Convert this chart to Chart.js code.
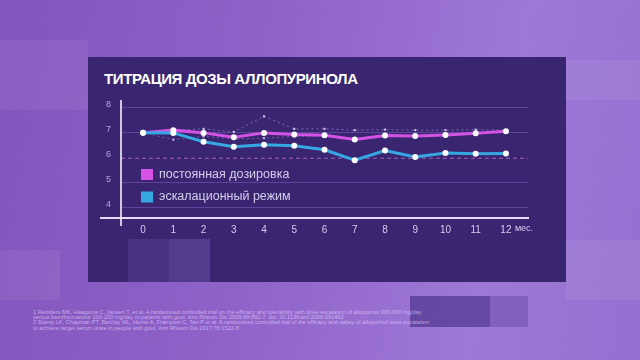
<!DOCTYPE html>
<html><head><meta charset="utf-8">
<script src="https://cdn.jsdelivr.net/npm/chart.js@4"></script>
<style>
html,body{margin:0;padding:0;}
body{width:640px;height:360px;overflow:hidden;position:relative;font-family:"Liberation Sans",Arial,sans-serif;
background:linear-gradient(100deg,#8155bd 0%,#8f62c8 40%,#9e78d6 75%,#9670d0 100%);}
.deco{position:absolute;background:rgba(255,255,255,0.06);}
#panel{position:absolute;left:88px;top:57px;width:478px;height:225px;background:#3a2570;}
#title{position:absolute;left:104px;top:70px;color:#fff;font-weight:bold;font-size:15px;letter-spacing:-0.4px;white-space:nowrap;}
#notes{position:absolute;left:33px;top:310px;color:rgba(225,210,255,0.7);font-size:5.5px;line-height:5.2px;white-space:nowrap;}
#notes span{display:inline-block;}
canvas{position:absolute;left:0;top:0;}
</style></head><body>
<div class="deco" style="left:0;top:40px;width:88px;height:70px"></div>
<div class="deco" style="left:566px;top:60px;width:74px;height:40px"></div>
<div class="deco" style="left:0;top:250px;width:60px;height:50px"></div>
<div class="deco" style="left:566px;top:240px;width:74px;height:60px"></div>
<div class="deco" style="left:410px;top:296px;width:80px;height:31px;background:rgba(55,35,120,0.55)"></div>
<div class="deco" style="left:490px;top:296px;width:38px;height:31px;background:rgba(70,45,140,0.3)"></div>
<div id="panel"></div>
<div class="deco" style="left:128px;top:239px;width:41px;height:43px;background:rgba(140,110,210,0.18)"></div>
<div class="deco" style="left:169px;top:239px;width:41px;height:43px;background:rgba(150,120,220,0.28)"></div>
<div id="title">ТИТРАЦИЯ ДОЗЫ АЛЛОПУРИНОЛА</div>
<div id="notes"><span id="n1">1 Reinders MK, Haagsma C, Jansen T, et al. A randomised controlled trial on the efficacy and tolerability with dose escalation of allopurinol 300-600 mg/day</span><br>versus benzbromarone 100-200 mg/day in patients with gout. Ann Rheum Dis 2009;68:892-7. doi: 10.1136/ard.2008.091462<br>2 Stamp LK, Chapman PT, Barclay ML, Horne A, Frampton C, Tan P et al. A randomised controlled trial of the efficacy and safety of allopurinol dose escalation<br>to achieve target serum urate in people with gout. Ann Rheum Dis 2017;76:1522-8</div>
<canvas id="c" width="640" height="360"></canvas>
<script>
const months = [0,1,2,3,4,5,6,7,8,9,10,11,12];
const yTicks = [4,5,6,7,8];
const unitLabel = "мес.";
const constantDose = [7.0,7.1,6.99,6.82,6.99,6.93,6.9,6.73,6.89,6.87,6.91,6.98,7.06];
const escalation = [7.0,6.99,6.64,6.44,6.52,6.48,6.32,5.9,6.29,6.03,6.19,6.16,6.17];
const upperRef = [7.0,7.1,7.15,7.03,7.65,7.15,7.15,7.1,7.12,7.1,7.1,7.12,7.1];
const lowerRef = [7.0,6.72,6.85,6.75,6.78,6.85,6.88,null,null,null,null,null,null];
const seriesNames = ["постоянная дозировка","эскалационный режим"];
const seriesColors = ["#d452e4","#35a8e2"];

// fit footnote size so the first line spans about 390px like the reference
(function(){
  const n=document.getElementById('notes'), s=document.getElementById('n1');
  const w=s.getBoundingClientRect().width;
  if(w>0){ n.style.fontSize=(5.5*390/w).toFixed(2)+'px'; }
})();

const pts = arr => months.map((m,i)=>({x:m,y:arr[i]}));

const decor = {
  id:'decor',
  afterDraw(chart){
    const ctx=chart.ctx, xs=chart.scales.x, a=chart.chartArea;
    ctx.save();
    ctx.strokeStyle='#e6dcf8'; ctx.lineWidth=2;
    ctx.beginPath(); ctx.moveTo(100,a.bottom); ctx.lineTo(a.right+1,a.bottom); ctx.stroke();
    ctx.strokeStyle='#ffffff'; ctx.lineWidth=1.5;
    ctx.beginPath(); ctx.moveTo(a.left,a.top); ctx.lineTo(a.left,a.bottom+8); ctx.stroke();
    ctx.fillStyle='#d8ccf0'; ctx.font='9px "Liberation Sans", Arial'; ctx.textBaseline='middle'; ctx.textAlign='left';
    ctx.fillText(unitLabel, xs.getPixelForValue(12)+9, a.bottom+11);
    ctx.font='12.5px "Liberation Sans", Arial';
    seriesNames.forEach((n,i)=>{
      const cy = 174.5 + i*22.5;
      ctx.fillStyle=seriesColors[i];
      ctx.fillRect(141, cy-5.5, 12, 11);
      ctx.fillStyle='#d6cdee';
      ctx.fillText(n, 159, cy);
    });
    ctx.restore();
  }
};

new Chart(document.getElementById('c'),{
  type:'line',
  data:{datasets:[
    {label:'ref-up',data:pts(upperRef),borderColor:'rgba(190,160,235,0.55)',borderWidth:1,borderDash:[2,3],
     pointStyle:'rect',pointRadius:1.5,pointBackgroundColor:'rgba(240,230,255,0.8)',pointBorderWidth:0,order:5},
    {label:'ref-low',data:pts(lowerRef),borderColor:'rgba(190,160,235,0.45)',borderWidth:1,borderDash:[2,3],
     pointStyle:'rect',pointRadius:1.5,pointBackgroundColor:'rgba(240,230,255,0.7)',pointBorderWidth:0,order:6},
    {label:seriesNames[0],data:pts(constantDose),borderColor:seriesColors[0],borderWidth:3,
     pointRadius:3,pointBackgroundColor:'#ffffff',pointBorderWidth:0,order:2},
    {label:seriesNames[1],data:pts(escalation),borderColor:seriesColors[1],borderWidth:3,
     pointRadius:3,pointBackgroundColor:'#ffffff',pointBorderWidth:0,order:1}
  ]},
  options:{
    responsive:false,animation:false,
    layout:{padding:{left:0,top:100,right:112,bottom:122}},
    plugins:{legend:{display:false},tooltip:{enabled:false}},
    scales:{
      x:{type:'linear',min:-0.73,max:12.73,
        afterBuildTicks:s=>{s.ticks=months.map(v=>({value:v}));},
        afterFit:s=>{s.height=20;},
        grid:{display:false,drawTicks:false},border:{display:false},
        ticks:{color:'#d8ccf0',font:{size:10,family:'"Liberation Sans", Arial'},padding:6,maxRotation:0,autoSkip:false}},
      y:{type:'linear',min:3.6,max:8.3,
        afterBuildTicks:s=>{s.ticks=yTicks.map(v=>({value:v}));},
        afterFit:s=>{s.width=121;},
        border:{display:false},
        grid:{drawTicks:false,lineWidth:1,
          color:c=>c.tick && c.tick.value===6?'rgba(200,120,210,0.7)':'rgba(130,100,200,0.5)'},
        ticks:{color:'#b8a8de',font:{size:9,family:'"Liberation Sans", Arial'},padding:10,labelOffset:-3}}
    }
  },
  plugins:[decor,{
    id:'dash6',
    beforeDatasetsDraw(chart){
      const ctx=chart.ctx,a=chart.chartArea,y=chart.scales.y.getPixelForValue(6);
      ctx.save();ctx.fillStyle='#3a2570';ctx.fillRect(a.left+1,y-1,a.right-a.left,2);
      ctx.strokeStyle='rgba(200,120,210,0.75)';ctx.setLineDash([4,3]);ctx.lineWidth=1;
      ctx.beginPath();ctx.moveTo(a.left,y+0.5);ctx.lineTo(a.right,y+0.5);ctx.stroke();ctx.restore();
    }
  }]
});
</script>
</body></html>
